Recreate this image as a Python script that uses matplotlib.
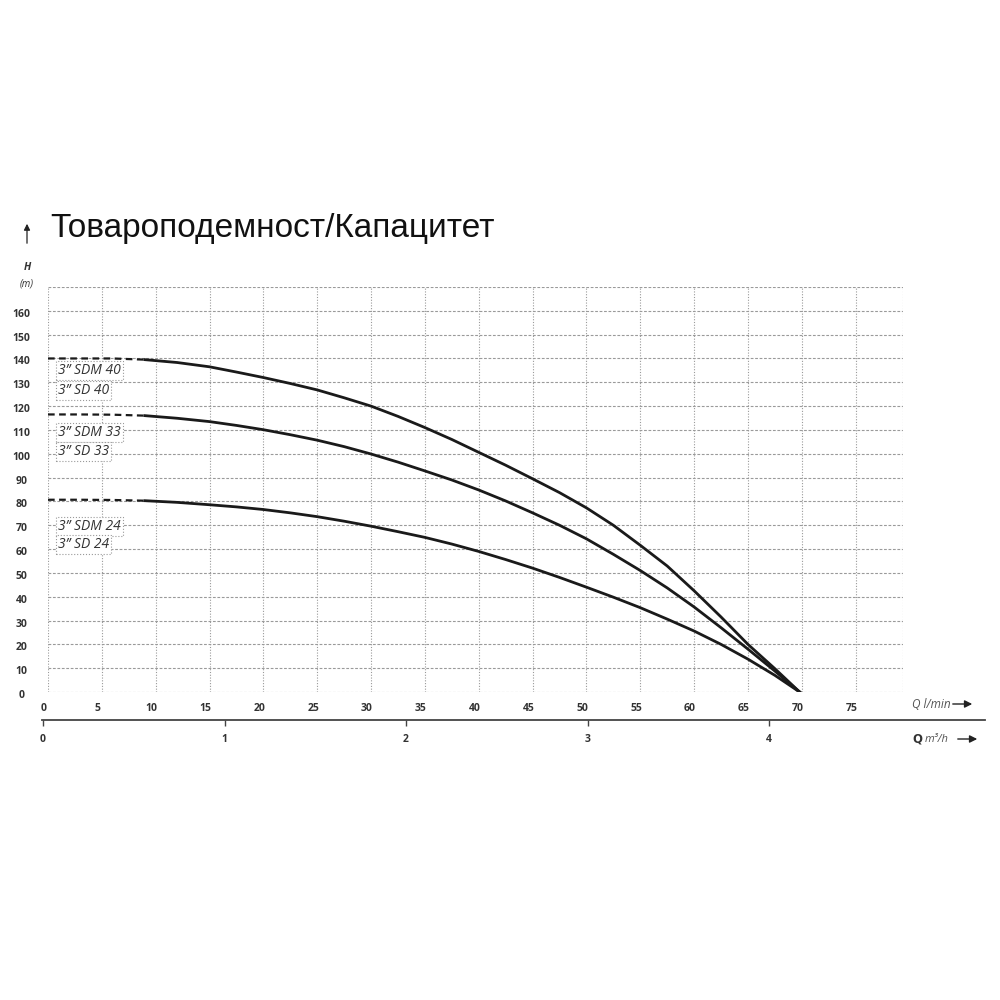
import numpy as np
import matplotlib
matplotlib.use('Agg')
import matplotlib.pyplot as plt
from matplotlib.patches import FancyArrowPatch
from matplotlib.transforms import ScaledTranslation

# pump curves, Q in l/min, H in m
q_dash = [0, 3, 6, 9]
h40_dash = [140, 140, 140, 139.5]
h33_dash = [116.5, 116.5, 116.4, 116]
h24_dash = [80.7, 80.7, 80.6, 80.3]

q = [9, 12, 15, 17.5, 20, 22.5, 25, 27.5, 30, 32.5, 35, 37.5, 40, 42.5, 45,
     47.5, 50, 52.5, 55, 57.5, 60, 62.5, 65, 67.5, 69.8]
h40 = [139.5, 138.3, 136.5, 134.3, 132, 129.5, 126.8, 123.5, 120, 115.7, 111, 106, 100.6, 95.2, 89.5,
       83.7, 77.3, 70, 61.6, 52.9, 42.5, 31.5, 20, 9.8, 0]
h33 = [116, 114.9, 113.5, 111.9, 110.1, 108, 105.7, 103, 99.9, 96.5, 92.8, 89, 84.8, 80.2, 75.2,
       70, 64.3, 57.8, 51, 43.7, 35.7, 27, 18, 8.8, 0]
h24 = [80.3, 79.6, 78.6, 77.7, 76.6, 75.2, 73.6, 71.7, 69.6, 67.3, 64.9, 62.1, 59, 55.6, 52,
       48.1, 44, 39.8, 35.4, 30.6, 25.6, 20, 13.8, 7, 0]

labels = [('3” SDM 40', 134.9), ('3” SD 40', 126.5),
          ('3” SDM 33', 109), ('3” SD 33', 101),
          ('3” SDM 24', 69.3), ('3” SD 24', 61.8)]

x_ticks = list(range(0, 80, 5))
y_ticks = list(range(0, 170, 10))
m3h_ticks = [0, 1, 2, 3, 4]

txt = '#333333'
gridc = '#9a9a9a'
nfont = 'Open Sans'

fig = plt.figure(figsize=(10, 10), dpi=100)
ax = fig.add_axes([0.048, 0.308, 0.855, 0.405])
ax.set_xlim(0, 79.4)
ax.set_ylim(0, 170)

for s in ax.spines.values():
    s.set_visible(False)

for xv in x_ticks + [79.4]:
    ax.axvline(xv, color=gridc, lw=0.8, ls=(0, (1, 1.5)), zorder=1)
for yv in y_ticks + [170]:
    ax.axhline(yv, color=gridc, lw=0.8, ls=(0, (2.5, 1.5)), zorder=1)

for hd, hs in [(h40_dash, h40), (h33_dash, h33), (h24_dash, h24)]:
    ax.plot(q_dash, hd, color='#1a1a1a', lw=1.6, ls=(0, (3, 2)), zorder=3)
    ax.plot(q, hs, color='#1a1a1a', lw=2.0, zorder=3, solid_joinstyle='round')

for lab, yv in labels:
    ax.text(0.95, yv, lab, fontsize=10, style='italic', family=nfont, color=txt,
            va='center', ha='left', zorder=4,
            bbox=dict(boxstyle='square,pad=0.15', fc='white', ec=gridc, ls=':', lw=0.8))

ax.set_xticks(x_ticks)
ax.set_yticks(y_ticks)
ax.tick_params(length=0)
ax.tick_params(axis='y', pad=19)
ax.tick_params(axis='x', pad=8)
for t in ax.get_yticklabels():
    t.set_ha('center')
    t.set_fontweight('bold')
    t.set_fontsize(7.5)
    t.set_family(nfont)
    t.set_color(txt)
    t.set_transform(t.get_transform() + ScaledTranslation(0, -2 / 100, fig.dpi_scale_trans))
for t in ax.get_xticklabels():
    t.set_fontweight('bold')
    t.set_fontsize(7.5)
    t.set_family(nfont)
    t.set_color(txt)
    t.set_transform(t.get_transform() + ScaledTranslation(-4 / 100, 0, fig.dpi_scale_trans))

# lower axis in m3/h
ax2 = fig.add_axes([0.042, 0.28, 0.943, 0.0001])
ax2.set_xlim(-0.0055, 5.19)
ax2.set_ylim(0, 1)
for k in ['top', 'left', 'right']:
    ax2.spines[k].set_visible(False)
ax2.spines['bottom'].set_color('#444444')
ax2.spines['bottom'].set_linewidth(1.3)
ax2.set_yticks([])
ax2.set_xticks(m3h_ticks)
ax2.tick_params(axis='x', direction='out', length=4, width=1, color='#444444', pad=6)
for t in ax2.get_xticklabels():
    t.set_fontweight('bold')
    t.set_fontsize(7.5)
    t.set_family(nfont)
    t.set_color(txt)

# titles and axis names
fig.text(0.050, 1 - 0.237, 'Товароподемност/Капацитет', fontsize=24,
         family='Liberation Sans', color='#111111', va='baseline', ha='left')
fig.add_artist(FancyArrowPatch((0.027, 1 - 0.246), (0.027, 1 - 0.221), transform=fig.transFigure,
                               arrowstyle='-|>', mutation_scale=9, lw=0.9, color='#222222'))
fig.text(0.027, 1 - 0.268, 'H', fontsize=7.5, weight='bold', style='italic', family=nfont,
         color=txt, ha='center', va='center')
fig.text(0.027, 1 - 0.284, '(m)', fontsize=7, style='italic', family=nfont,
         color=txt, ha='center', va='center')

fig.text(0.912, 1 - 0.705, 'Q l/min', fontsize=8.5, style='italic', family=nfont,
         color='#555555', ha='left', va='center')
fig.add_artist(FancyArrowPatch((0.950, 1 - 0.704), (0.975, 1 - 0.704), transform=fig.transFigure,
                               arrowstyle='-|>', mutation_scale=11, lw=1.0, color='#222222'))
fig.text(0.912, 1 - 0.739, r'$\mathbf{Q}$', fontsize=8.5, color='#333333', ha='left', va='center')
fig.text(0.925, 1 - 0.739, 'm³/h', fontsize=8, style='italic', family=nfont,
         color='#555555', ha='left', va='center')
fig.add_artist(FancyArrowPatch((0.955, 1 - 0.739), (0.980, 1 - 0.739), transform=fig.transFigure,
                               arrowstyle='-|>', mutation_scale=11, lw=1.0, color='#222222'))

fig.savefig('out.png', dpi=100, facecolor='white')
